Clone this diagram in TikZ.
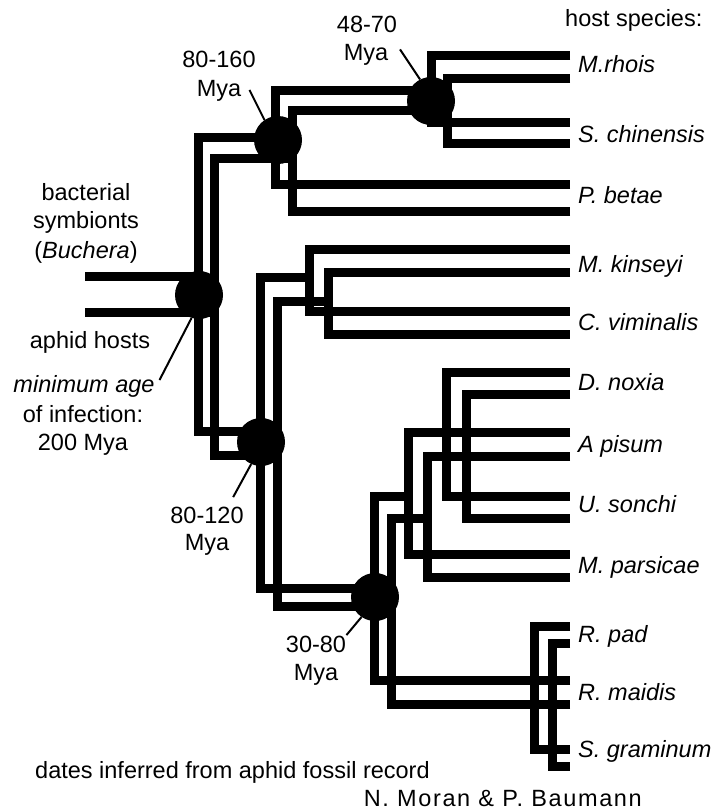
\documentclass[tikz,border=0pt]{standalone}
\usepackage{fontspec}
\setmainfont{Liberation Sans}
\begin{document}
\begin{tikzpicture}[x=1pt, y=-1pt,
    branch/.style={line width=9pt, line join=miter, line cap=butt},
    junction/.style={circle, fill=black, inner sep=0pt, minimum size=48pt},
    leader/.style={line width=2pt},
    lab/.style={anchor=base, inner sep=0pt, font=\fontsize{23.5}{28}\selectfont},
    species/.style={anchor=base west, inner sep=0pt, font=\fontsize{23.5}{28}\selectfont\itshape}]
    \useasboundingbox (0,0) rectangle (718,811);

    % bacterial tree (upper line of each pair)
    \coordinate (b-start) at (85,276);
    \coordinate (b-root) at (198,276);
    \coordinate (b80160) at (275,137);
    \coordinate (b4870) at (431,90);
    \coordinate (b80120) at (260,431);
    \coordinate (b-kins) at (309,277);
    \coordinate (b3080) at (374,588);
    \coordinate (b-macro) at (408,496);
    \coordinate (b-du) at (446,432);
    \coordinate (b-rh) at (534,680);
    \foreach \n/\y in {rhois/55, chinensis/122, betae/184, kinseyi/249, viminalis/311, noxia/372,
                       pisum/432, sonchi/496, parsicae/554, pad/626, maidis/680, graminum/749}
        \coordinate (b-\n) at (570,\y);

    % aphid tree (lower line of each pair)
    \coordinate (a-start) at (85,312);
    \coordinate (a-root) at (214,312);
    \coordinate (a80160) at (292,158);
    \coordinate (a4870) at (447,110);
    \coordinate (a80120) at (277,455);
    \coordinate (a-kins) at (328,301);
    \coordinate (a3080) at (391,606);
    \coordinate (a-macro) at (427,518);
    \coordinate (a-du) at (466,456);
    \coordinate (a-rh) at (552,704);
    \foreach \n/\y in {rhois/78, chinensis/143, betae/211, kinseyi/272, viminalis/334, noxia/394,
                       pisum/456, sonchi/518, parsicae/577, pad/643, maidis/704, graminum/766}
        \coordinate (a-\n) at (570,\y);

    % same topology for both trees
    \foreach \t in {b,a} {
        \draw[branch] (\t-start) -- (\t-root);
        \draw[branch] (\t80120) -| (\t-root) |- (\t80160);
        \draw[branch] (\t-betae) -| (\t80160) |- (\t4870);
        \draw[branch] (\t-rhois) -| (\t4870) |- (\t-chinensis);
        \draw[branch] (\t3080) -| (\t80120) |- (\t-kins);
        \draw[branch] (\t-kinseyi) -| (\t-kins) |- (\t-viminalis);
        \draw[branch] (\t-maidis) -| (\t3080) |- (\t-macro);
        \draw[branch] (\t-pisum) -| (\t-macro) |- (\t-parsicae);
        \draw[branch] (\t-noxia) -| (\t-du) |- (\t-sonchi);
        \draw[branch] (\t-pad) -| (\t-rh) |- (\t-graminum);
    }

    % dated nodes
    \node[junction] (croot) at (199,295) {};
    \node[junction] (c80160) at (278,140) {};
    \node[junction] (c4870) at (431,101) {};
    \node[junction] (c80120) at (261,442) {};
    \node[junction] (c3080) at (375,597) {};

    % leaders
    \draw[leader] (c4870.117) -- ++(-20,-30);
    \draw[leader] (c80160.124) -- ++(-15,-30);
    \draw[leader] (croot.252) -- ++(-32,62);
    \draw[leader] (c80120.246) -- ++(-18,33);
    \draw[leader] (c3080.236) -- ++(-15,18);

    % ages
    \node[lab] (t4870a) at (367,32) {48-70};
    \node[lab] (t4870b) at (366,60) {Mya};
    \node[lab] (t80160a) at (219,67) {80-160};
    \node[lab] (t80160b) at (219,96) {Mya};
    \node[lab] (t80120a) at (207,523) {80-120};
    \node[lab] (t80120b) at (207,550) {Mya};
    \node[lab] (t3080a) at (316,652) {30-80};
    \node[lab] (t3080b) at (316,680) {Mya};

    % left side
    \node[lab] (tbact1) at (86,200) {bacterial};
    \node[lab] (tbact2) at (86,228) {symbionts};
    \node[lab] (tbact3) at (86,258) {(\textit{Buchera})};
    \node[lab] (taphid) at (90,348) {aphid hosts};
    \node[lab] (tmin1) at (84,392) {\textit{minimum age}};
    \node[lab] (tmin2) at (83,422) {of infection:};
    \node[lab] (tmin3) at (83,450) {200 Mya};

    % host species
    \node[lab, anchor=base west] (thost) at (565,26) {host species:};
    \foreach \n/\y/\s in {rhois/72/M.rhois, chinensis/142/S. chinensis, betae/203/P. betae,
                          kinseyi/272/M. kinseyi, viminalis/330/C. viminalis, noxia/390/D. noxia,
                          pisum/452/A pisum, sonchi/512/U. sonchi, parsicae/573/M. parsicae,
                          pad/642/R. pad, maidis/700/R. maidis, graminum/757/S. graminum}
        \node[species] (s-\n) at (578,\y) {\s};

    % bottom
    \node[lab, anchor=base west] (tdates) at (35,778) {dates inferred from aphid fossil record};
    \node[lab, anchor=base east] (tauthors) at (642,806) {\addfontfeature{LetterSpace=7}N. Moran \& P. Baumann};
\end{tikzpicture}
\end{document}
